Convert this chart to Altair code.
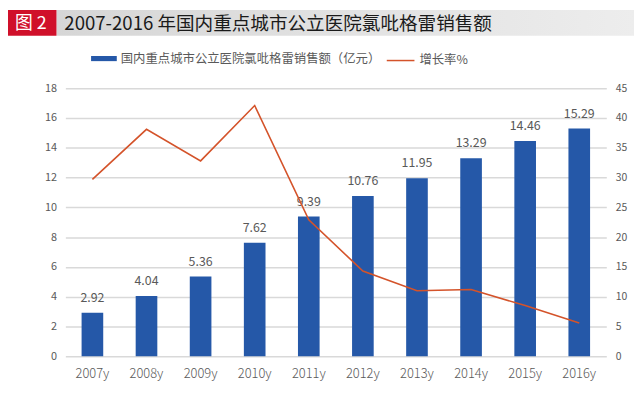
import altair as alt
import pandas as pd

years = ["2007y", "2008y", "2009y", "2010y", "2011y", "2012y", "2013y", "2014y", "2015y", "2016y"]
sales = [2.92, 4.04, 5.36, 7.62, 9.39, 10.76, 11.95, 13.29, 14.46, 15.29]
growth = [29.7, 38.1, 32.8, 42.1, 22.9, 14.3, 11.0, 11.2, 8.5, 5.6]
left_ticks = [0, 2, 4, 6, 8, 10, 12, 14, 16, 18]
right_ticks = [0, 5, 10, 15, 20, 25, 30, 35, 40, 45]
bar_name = "国内重点城市公立医院氯吡格雷销售额（亿元）"
line_name = "增长率%"
title_tag = "图 2"
title_text = "2007-2016 年国内重点城市公立医院氯吡格雷销售额"

FONT = "Noto Sans CJK SC"
GREY = "#595959"
BAR_COLOR = "#2558a8"
LINE_COLOR = "#d4532a"

df = pd.DataFrame({"year": years, "sales": sales, "growth": growth})
one = pd.DataFrame({"a": [0]})

base = alt.Chart(df)
xenc = alt.X("year:N", sort=years,
             scale=alt.Scale(paddingInner=0.6, paddingOuter=0.3),
             axis=alt.Axis(title=None, labelAngle=0, domain=False, ticks=False,
                           labelPadding=12, labelFontSize=13, labelColor=GREY,
                           labelFont=FONT, labelFontWeight=300))

yleft = alt.Y("sales:Q", scale=alt.Scale(domain=[0, 18]),
              axis=alt.Axis(title=None, values=left_ticks, domain=False, ticks=False,
                            grid=True, gridColor="#d9d9d9", gridWidth=1.5,
                            labelColor=GREY, labelFontSize=11, labelPadding=9,
                            labelFont=FONT))

bars = base.mark_bar().transform_calculate(s=f"'{bar_name}'").encode(
    x=xenc,
    y=yleft,
    fill=alt.Fill("s:N", scale=alt.Scale(domain=[bar_name], range=[BAR_COLOR]),
                  legend=alt.Legend(title=None, orient="none", legendX=26, legendY=-43,
                                    symbolType="M-1,-0.2H1V0.2H-1Z", symbolSize=676,
                                    symbolStrokeWidth=0, labelFont=FONT,
                                    labelFontSize=12.5, labelColor=GREY, labelOffset=4,
                                    labelLimit=400, padding=0)),
)

labels = base.mark_text(dy=-11, baseline="alphabetic", fontSize=12.5, color=GREY,
                        font=FONT).encode(
    x=alt.X("year:N", sort=years),
    y=yleft,
    text=alt.Text("sales:Q", format=".2f"),
)

left = alt.layer(bars, labels)

line = base.mark_line(strokeWidth=1.6).transform_calculate(s=f"'{line_name}'").encode(
    x=alt.X("year:N", sort=years),
    y=alt.Y("growth:Q", scale=alt.Scale(domain=[0, 45]),
            axis=alt.Axis(title=None, orient="right", values=right_ticks, domain=False,
                          ticks=False, grid=False, labelColor=GREY, labelFontSize=10.5,
                          labelPadding=9, labelFont=FONT)),
    stroke=alt.Stroke("s:N", scale=alt.Scale(domain=[line_name], range=[LINE_COLOR]),
                      legend=alt.Legend(title=None, orient="none", legendX=324, legendY=-43,
                                        symbolType="stroke", symbolSize=784,
                                        symbolStrokeWidth=1.5, labelFont=FONT,
                                        labelFontSize=12.5, labelColor=GREY, labelOffset=4,
                                        labelLimit=200, padding=0)),
)

band = alt.Chart(one).mark_rect(
    color=alt.LinearGradient(gradient="linear",
                             stops=[alt.GradientStop(color="#d6d6d6", offset=0),
                                    alt.GradientStop(color="#ededed", offset=1)],
                             x1=0, x2=1, y1=0, y2=0)
).encode(x=alt.value(-9), x2=alt.value(575), y=alt.value(-79), y2=alt.value(-53))

redbox = alt.Chart(one).mark_rect(color="#d0102a").encode(
    x=alt.value(-58), x2=alt.value(-9), y=alt.value(-79), y2=alt.value(-53))

tag = alt.Chart(one).mark_text(text=title_tag, color="white", fontSize=18, font=FONT,
                               align="center", baseline="middle").encode(
    x=alt.value(-35), y=alt.value(-65))

ttl = alt.Chart(one).mark_text(text=title_text, color="#1a1a1a", fontSize=18.8, font=FONT,
                               align="left", baseline="middle").encode(
    x=alt.value(-1), y=alt.value(-65))

chart = alt.layer(band, redbox, tag, ttl, left, line).resolve_scale(
    y="independent", fill="independent", stroke="independent"
).properties(
    width=547, height=271,
    padding={"left": 58, "top": 79, "right": 28, "bottom": 30},
    autosize=alt.AutoSizeParams(type="none"),
    background="white",
).configure_view(stroke=None)

chart.save("out.html", embed_options={"renderer": "svg", "actions": False})
